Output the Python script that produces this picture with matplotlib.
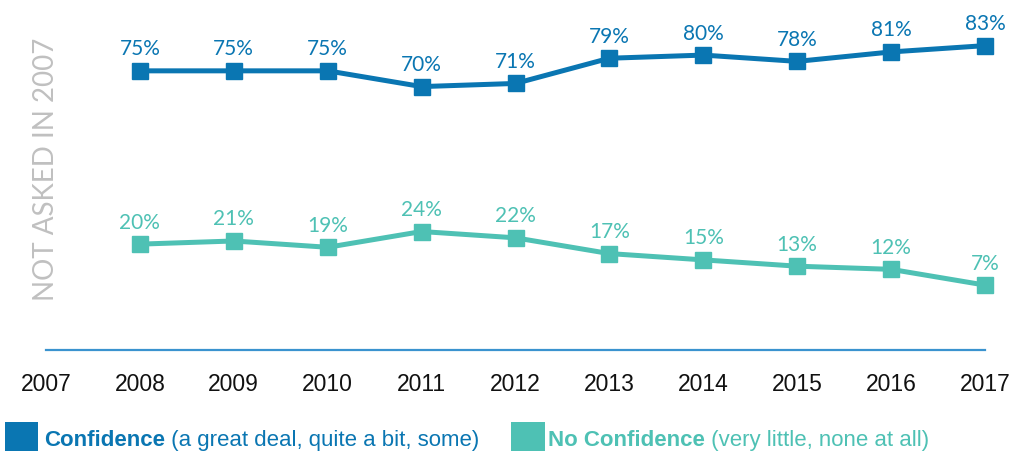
import matplotlib
matplotlib.use("Agg")
import matplotlib.pyplot as plt
from matplotlib.patches import Rectangle

years = [2007, 2008, 2009, 2010, 2011, 2012, 2013, 2014, 2015, 2016, 2017]
yrs_asked = [2008, 2009, 2010, 2011, 2012, 2013, 2014, 2015, 2016, 2017]
confidence = [75, 75, 75, 70, 71, 79, 80, 78, 81, 83]
no_confidence = [20, 21, 19, 24, 22, 17, 15, 13, 12, 7]

BLUE = "#0a76b2"
TEAL = "#4ec1b4"
LINE = "#3a93cf"
sans = ["Liberation Sans", "DejaVu Sans"]
lato = ["Lato", "DejaVu Sans"]

fig = plt.figure(figsize=(10.09, 4.52), dpi=100)
ax = fig.add_axes([46/1009, 1-351/452, (985-46)/1009, 351/452])
ax.set_xlim(2007, 2017)
ax.set_ylim(-13.6, 97.8)
for s in ax.spines.values(): s.set_visible(False)
ax.set_yticks([])
ax.set_xticks(years)
ax.set_xticklabels([str(y) for y in years], family=sans, fontsize=16.5, color="#111111")
ax.tick_params(axis="x", length=0, pad=16)
ax.axhline(-13.6, color=LINE, lw=1.6, clip_on=False)

for vals, col in [(confidence, BLUE), (no_confidence, TEAL)]:
    ax.plot(yrs_asked, vals, color=col, lw=3.6, marker="s", ms=11.5, clip_on=False)
    for x, v in zip(yrs_asked, vals):
        ax.annotate(f"{v}%", (x, v), xytext=(0, 9), textcoords="offset points",
                    ha="center", va="bottom", color=col, fontsize=15,
                    family=lato, fontweight="normal")

ax.text(2007, 44, "NOT ASKED IN 2007", rotation=90, ha="center", va="center",
        color="#c0c0c0", fontsize=20, family=lato, fontweight="normal")

# legend
fig.patches.append(Rectangle((5/1009, 0), 33/1009, 29/452, transform=fig.transFigure,
                             facecolor=BLUE, edgecolor="none"))
fig.patches.append(Rectangle((511/1009, 0), 34/1009, 29/452, transform=fig.transFigure,
                             facecolor=TEAL, edgecolor="none"))
t1 = fig.text(44/1009, 6/452, "Confidence", color=BLUE, fontsize=16, fontweight="bold",
              family=sans, va="baseline")
ax.annotate(" (a great deal, quite a bit, some)", xy=(1, 0), xycoords=t1, va="bottom",
            color=BLUE, fontsize=16, family=sans)
t2 = fig.text(548/1009, 6/452, "No Confidence", color=TEAL, fontsize=16, fontweight="bold",
              family=sans, va="baseline")
ax.annotate(" (very little, none at all)", xy=(1, 0), xycoords=t2, va="bottom",
            color=TEAL, fontsize=16, family=sans)

fig.savefig("out.png", dpi=100)
